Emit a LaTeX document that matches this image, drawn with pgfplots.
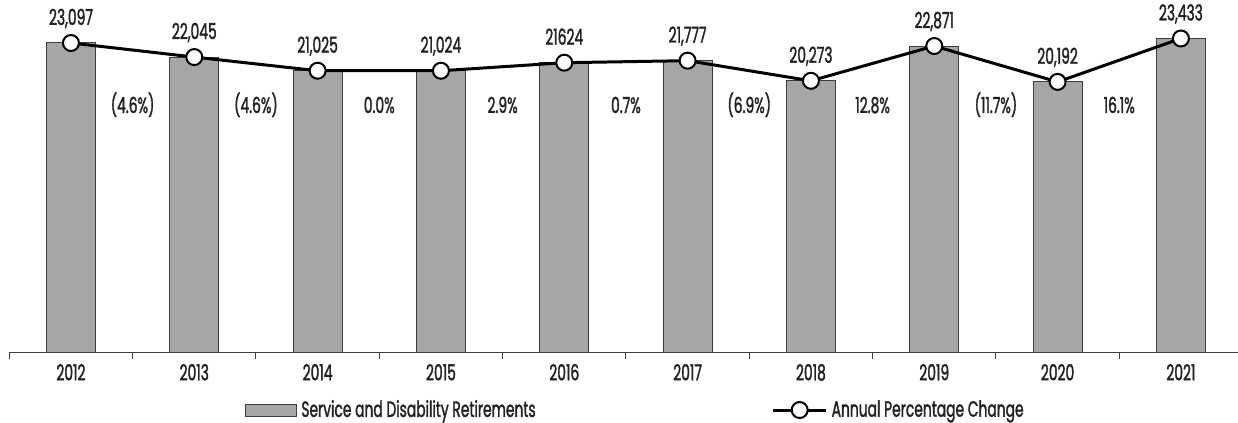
\documentclass[border=0pt]{standalone}
\usepackage{pgfplots}
\pgfplotsset{compat=1.18}
\usepackage{fontspec}
\setmainfont{Poppins}[FakeStretch=0.63, FakeBold=1.5]
\definecolor{barfill}{HTML}{A6A6A6}
\definecolor{bardraw}{HTML}{3C3C3C}
\definecolor{txt}{HTML}{222222}
\newcommand\lblfont{\fontsize{11}{12}\selectfont}
\begin{document}
\begin{tikzpicture}
\path[use as bounding box] (-4.65pt,-35.35pt) rectangle (614.35pt,176.15pt);
\begin{axis}[
  scale only axis, width=614.35pt, height=167.4pt,
  xmin=-0.5, xmax=9.463, ymin=0, ymax=25000,
  clip=false,
  axis y line=none, axis x line*=bottom,
  axis line style={draw=bardraw, line width=0.6pt},
  xtick={0,...,9},
  xticklabels={2012,2013,2014,2015,2016,2017,2018,2019,2020,2021},
  major tick length=0pt,
  xticklabel style={anchor=base, yshift=-14pt, font=\lblfont, text=txt},
  extra x ticks={-0.5,0.5,...,8.5},
  extra x tick labels={},
  extra x tick style={major tick length=3.5pt, tick align=outside, tick style={draw=bardraw, line width=0.5pt}},
  /pgf/number format/assume math mode=true,
  legend columns=2,
  legend style={draw=none, fill=none, inner sep=0pt, at={(axis description cs:0.1918,-0.1724)}, anchor=west,
    font=\lblfont, text=txt,
    /tikz/every even column/.append style={column sep=116pt}},
]
\addplot[ybar, bar width=24.5pt, bar shift=0pt, fill=barfill, draw=bardraw, line width=0.5pt,
  legend image code/.code={\draw[fill=barfill, draw=bardraw, line width=0.5pt] (0pt,-3pt) rectangle (25.5pt,3pt);}]
  table[x=x, y=y] {
x y
0 23097
1 22045
2 21025
3 21024
4 21624
5 21777
6 20273
7 22871
8 20192
9 23433
};
\addlegendentry{Service and Disability Retirements}
\addplot[black, line width=1.5pt, mark=*, mark size=4pt, mark options={fill=white, draw=black, line width=1pt},
  point meta=explicit symbolic, nodes near coords,
  nodes near coords style={anchor=base, yshift=9pt, inner sep=0pt, font=\lblfont, text=txt},
  legend image code/.code={\draw[black, line width=1.5pt] (0pt,0pt) -- (26.5pt,0pt);
    \draw[fill=white, draw=black, line width=1pt] (13.25pt,0pt) circle (4pt);}]
  table[x=x, y=y, meta=label] {
x y label
0 23097 23,097
1 22045 22,045
2 21025 21,025
3 21024 21,024
4 21624 21624
5 21777 21,777
6 20273 20,273
7 22871 22,871
8 20192 20,192
9 23433 23,433
};
\addlegendentry{Annual Percentage Change}
\addplot[draw=none, mark=none, point meta=explicit symbolic, nodes near coords,
  nodes near coords style={anchor=base, inner sep=0pt, font=\lblfont, text=txt}]
  table[x=x, y=y, meta=label] {
x y label
0.5 17870 (4.6\%)
1.5 17870 (4.6\%)
2.5 17870 0.0\%
3.5 17870 2.9\%
4.5 17870 0.7\%
5.5 17870 (6.9\%)
6.5 17870 12.8\%
7.5 17870 (11.7\%)
8.5 17870 16.1\%
};
\end{axis}
\end{tikzpicture}
\end{document}
